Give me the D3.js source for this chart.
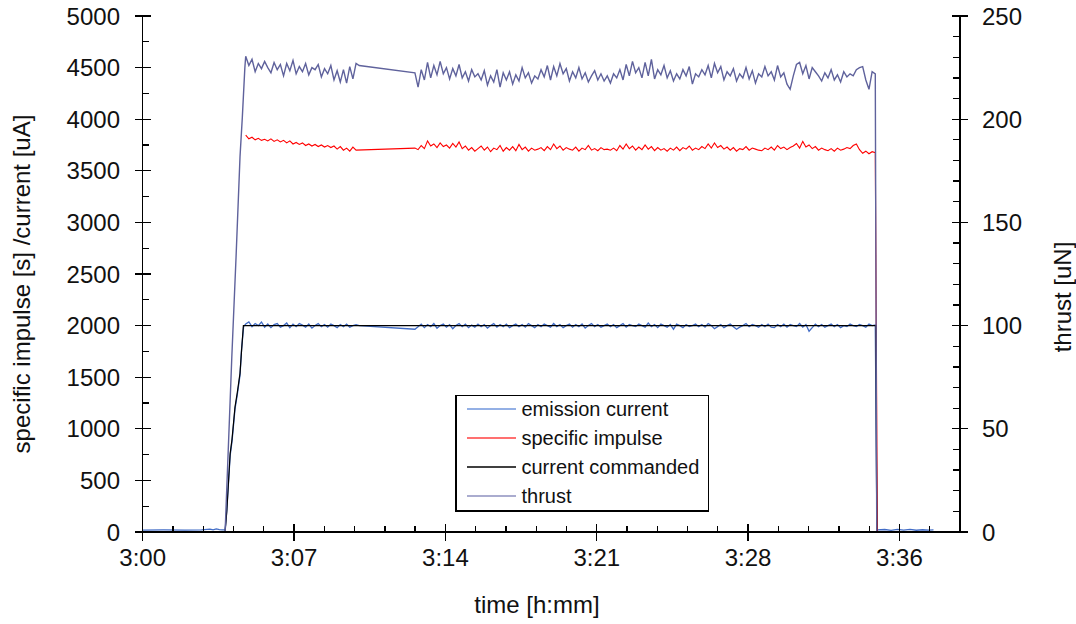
<!DOCTYPE html>
<html>
<head>
<meta charset="utf-8">
<script src="https://cdn.jsdelivr.net/npm/d3@7"></script>
<style>
  html, body { margin: 0; padding: 0; background: #fff; }
  svg { display: block; font-family: "Liberation Sans", Arial, sans-serif; }
</style>
</head>
<body>
<svg id="chart" width="1076" height="624"></svg>
<script>
// ---- DATA (time in minutes after 3:00) ----
const xTickMinutes = [0, 7.2, 14.4, 21.6, 28.8, 36];
const xTickLabels = ["3:00", "3:07", "3:14", "3:21", "3:28", "3:36"];
const xAxisMax = 38.88;
const leftTicks = [0, 500, 1000, 1500, 2000, 2500, 3000, 3500, 4000, 4500, 5000];
const rightTicks = [0, 50, 100, 150, 200, 250];
const seriesNames = ["emission current", "specific impulse", "current commanded", "thrust"];

// sampling schedule of the logged steady-state segments
const sampleStep = 0.15;
const segAStart = 4.9;
const segBStart = 12.95;

// emission current [uA]
const emissionPre = [[0, 18], [1, 20], [2, 18], [2.8, 20], [3.2, 27], [3.35, 21], [3.5, 30], [3.65, 23], [3.8, 20], [3.92, 20]];
const emissionRamp = [[4.0, 210], [4.16, 740], [4.25, 880], [4.39, 1190], [4.5, 1330], [4.63, 1520], [4.7, 1760], [4.8, 1990]];
const emissionA = [2015, 2035, 1990, 2020, 2000, 2035, 1985, 2015, 1980, 2010, 2020, 1985, 2000, 2025, 1980, 2015, 1990, 2020, 2005, 1985, 2015, 1975, 2000, 2020, 1990, 2010, 1985, 2015, 2000, 1980, 2010, 1990, 2015, 1985, 2000, 2010, 2000];
const emissionB = [1965, 1990, 2015, 1980, 2010, 1990, 2020, 1975, 2000, 2015,
  1985, 2010, 1970, 2000, 2020, 1990, 2015, 1980, 2005, 1985,
  2015, 1990, 2010, 1975, 2000, 2020, 1985, 2010, 1990, 2015,
  1980, 2000, 2015, 1990, 2010, 1985, 2020, 2000, 1980, 2010,
  1990, 2015, 2000, 1985, 2020, 1990, 2010, 1980, 2000, 2015,
  1985, 2010, 1990, 2015, 1975, 2000, 2020, 1990, 2010, 1985,
  2000, 2015, 1990, 2010, 1980, 2000, 2020, 1985, 2010, 2000,
  1990, 2015, 2000, 1985, 2025, 1990, 2010, 1980, 2015, 2000,
  1985, 2010, 1965, 2015, 2000, 1980, 2010, 1990, 2000, 2015,
  1990, 2010, 1985, 2020, 2000, 1970, 1990, 2010, 1980, 2000,
  2015, 1990, 1965, 1985, 2000, 2020, 1990, 2010, 2000, 1985,
  2010, 1990, 2015, 1985, 1980, 2010, 1990, 2015, 1985, 2010,
  2000, 1990, 2020, 1985, 2010, 1945, 1980, 2015, 1990, 2010,
  1985, 2000, 2015, 1990, 2010, 1980, 2000, 1990, 2015, 2000,
  1990, 2010, 2000, 1985, 2015, 2000, 2005];
const emissionPost = [[34.93, 0], [34.96, 20], [35.3, 24], [35.6, 16], [35.9, 25], [36.2, 18], [36.5, 26], [36.8, 17], [37.1, 22], [37.4, 18], [37.62, 20]];

// specific impulse [s]
const impulseA = [3845, 3810, 3825, 3800, 3815, 3795, 3805, 3790, 3810, 3785, 3800, 3780, 3795, 3770, 3790, 3760, 3775, 3755, 3770, 3745, 3760, 3740, 3755, 3735, 3750, 3730, 3745, 3725, 3740, 3710, 3735, 3700, 3720, 3690, 3730, 3700];
const impulseB = [3720, 3705, 3745, 3715, 3790, 3740, 3760, 3725, 3770, 3735,
  3750, 3720, 3765, 3730, 3780, 3715, 3740, 3700, 3725, 3690,
  3715, 3740, 3700, 3730, 3685, 3720, 3705, 3745, 3690, 3725,
  3700, 3735, 3695, 3755, 3705, 3730, 3690, 3720, 3700, 3710,
  3725, 3695, 3735, 3705, 3760, 3715, 3740, 3700, 3725, 3710,
  3700, 3730, 3690, 3720, 3705, 3745, 3700, 3715, 3695, 3725,
  3705, 3710, 3700, 3720, 3695, 3745, 3710, 3760, 3715, 3740,
  3700, 3730, 3705, 3750, 3710, 3735, 3695, 3725, 3700, 3715,
  3690, 3720, 3700, 3730, 3695, 3725, 3710, 3740, 3700, 3720,
  3705, 3735, 3715, 3760, 3720, 3770, 3725, 3745, 3710, 3730,
  3700, 3725, 3690, 3715, 3705, 3735, 3700, 3720, 3710, 3700,
  3695, 3720, 3705, 3730, 3700, 3745, 3715, 3730, 3705, 3725,
  3740, 3765, 3720, 3785, 3730, 3750, 3715, 3735, 3700, 3720,
  3705, 3695, 3715, 3690, 3720, 3700, 3710, 3725, 3715, 3745,
  3760, 3705, 3670, 3690, 3665, 3685, 3675];
const impulseEnd = [[34.95, 0]];

// current commanded [uA]
const commanded = [[0, 0], [3.92, 0], [4.0, 200], [4.16, 760], [4.25, 900], [4.39, 1210], [4.5, 1350], [4.63, 1540], [4.7, 1750], [4.79, 2000], [34.88, 2000], [34.92, 0], [37.62, 0]];

// thrust [uN]
const thrustRamp = [[0, 0], [3.92, 0], [4.24, 85], [4.44, 133], [4.63, 182], [4.74, 201], [4.86, 225]];
const thrustA = [230.5, 226, 229, 223, 227, 224.5, 228, 225, 222.5, 227.5, 224, 226.5, 221, 227, 223.5, 228.5, 222, 225.5, 223, 227, 221.5, 225, 224, 226.5, 220.5, 224.5, 222, 226, 219, 223.5, 218, 224, 217.5, 225.5, 219.5, 227, 226];
const thrustB = [222.5, 215.5, 224, 219, 227.5, 220, 226, 221.5, 228, 222,
  225, 219.5, 224.5, 221, 226.5, 220, 223, 218.5, 224, 220.5,
  222, 219, 223.5, 216.5, 221, 218, 224, 215.5, 222.5, 219,
  223, 217, 221.5, 218.5, 225, 220, 222.5, 217.5, 221, 219.5,
  224, 220.5, 226, 219, 225.5, 221, 227, 222, 224.5, 218.5,
  223, 220, 225, 219.5, 222.5, 218, 221, 223.5, 219, 222,
  218.5, 221, 217.5, 222, 220, 224, 219, 226.5, 221, 228,
  222.5, 225, 220, 227.5, 221, 229, 219.5, 224, 221.5, 226,
  220, 223.5, 218.5, 222, 219.5, 224, 221, 225.5, 217, 222,
  220.5, 224, 221.5, 226, 220, 227, 222.5, 225.5, 219, 223,
  221, 224.5, 218.5, 222, 220, 225, 219.5, 223.5, 217.5, 222,
  220.5, 225.5, 221, 223, 219, 226, 220.5, 222.5, 217, 214.5,
  221, 226.5, 227.5, 222, 226, 219.5, 225, 223, 221, 218.5,
  222.5, 220, 224, 219, 221.5, 218, 223, 220.5, 222, 221,
  224, 225, 225.5, 219, 214.5, 223, 222];
const thrustEnd = [[34.92, 0], [37.62, 0]];

// ---- helpers ----
function sampled(values, start) { return values.map((v, i) => [start + i * sampleStep, v]); }

const emissionData = [].concat(emissionPre, emissionRamp, sampled(emissionA, segAStart), sampled(emissionB, segBStart), emissionPost);
const impulseData = [].concat(sampled(impulseA, segAStart), sampled(impulseB, segBStart), impulseEnd);
const thrustData = [].concat(thrustRamp, sampled(thrustA, segAStart), sampled(thrustB, segBStart), thrustEnd);

// ---- layout ----
const svg = d3.select("#chart");
const L = 142.7, R = 960, T = 16, B = 532;
const x = d3.scaleLinear().domain([0, xAxisMax]).range([L, R]);
const yL = d3.scaleLinear().domain([0, 5000]).range([B, T]);
const yR = d3.scaleLinear().domain([0, 250]).range([B, T]);

const colors = { emission: "#416cc6", impulse: "#ff0000", commanded: "#000000", thrust: "#5f629c" };

const lineL = d3.line().x(d => x(d[0])).y(d => yL(d[1]));
const lineR = d3.line().x(d => x(d[0])).y(d => yR(d[1]));

const plot = svg.append("g");
plot.append("path").datum(emissionData).attr("d", lineL).attr("fill", "none").attr("stroke", colors.emission).attr("stroke-width", 1.3);
plot.append("path").datum(impulseData).attr("d", lineL).attr("fill", "none").attr("stroke", colors.impulse).attr("stroke-width", 1.1);
plot.append("path").datum(commanded).attr("d", lineL).attr("fill", "none").attr("stroke", colors.commanded).attr("stroke-width", 1.2);
plot.append("path").datum(thrustData).attr("d", lineR).attr("fill", "none").attr("stroke", colors.thrust).attr("stroke-width", 1.4);

// ---- axes ----
const axisColor = "#000";
const ax = svg.append("g").attr("stroke", axisColor).attr("stroke-width", 1.3).attr("shape-rendering", "crispEdges");
ax.append("line").attr("x1", L).attr("x2", L).attr("y1", T).attr("y2", B);
ax.append("line").attr("x1", R).attr("x2", R).attr("y1", T).attr("y2", B);
ax.append("line").attr("x1", L).attr("x2", R).attr("y1", B).attr("y2", B);

// left ticks
leftTicks.forEach(v => ax.append("line").attr("x1", L - 8).attr("x2", L + 8).attr("y1", yL(v)).attr("y2", yL(v)));
d3.range(250, 5000, 500).forEach(v => ax.append("line").attr("x1", L).attr("x2", L + 6).attr("y1", yL(v)).attr("y2", yL(v)));
// right ticks
rightTicks.forEach(v => ax.append("line").attr("x1", R - 8).attr("x2", R + 8).attr("y1", yR(v)).attr("y2", yR(v)));
d3.range(10, 250, 10).filter(v => v % 50 !== 0).forEach(v => ax.append("line").attr("x1", R - 7).attr("x2", R).attr("y1", yR(v)).attr("y2", yR(v)));
// x ticks
xTickMinutes.forEach(v => ax.append("line").attr("x1", x(v)).attr("x2", x(v)).attr("y1", B - 8).attr("y2", B + 9));
d3.range(0, 28).map(i => i * 1.44).filter((v, i) => i % 5 !== 0 && v <= xAxisMax + 0.01).forEach(v =>
  ax.append("line").attr("x1", x(v)).attr("x2", x(v)).attr("y1", B - 6).attr("y2", B));

// tick labels
const fs = 24;
const tl = svg.append("g").attr("fill", "#111").attr("font-size", fs);
leftTicks.forEach(v => tl.append("text").attr("x", 120).attr("y", yL(v)).attr("dy", "0.36em").attr("text-anchor", "end").text(v));
rightTicks.forEach(v => tl.append("text").attr("x", 982).attr("y", yR(v)).attr("dy", "0.36em").attr("text-anchor", "start").text(v));
xTickMinutes.forEach((v, i) => tl.append("text").attr("x", x(v)).attr("y", 566).attr("text-anchor", "middle").text(xTickLabels[i]));

// axis titles
tl.append("text").attr("x", 537).attr("y", 613).attr("text-anchor", "middle").text("time [h:mm]");
tl.append("text").attr("transform", "translate(30,284) rotate(-90)").attr("text-anchor", "middle").text("specific impulse [s] /current [uA]");
tl.append("text").attr("transform", "translate(1071,297) rotate(-90)").attr("text-anchor", "middle").text("thrust [uN]");

// ---- legend ----
const lg = svg.append("g");
lg.append("rect").attr("x", 456).attr("y", 395.5).attr("width", 252.5).attr("height", 115.5)
  .attr("fill", "#fff").attr("stroke", "#000").attr("stroke-width", 1.2).attr("shape-rendering", "crispEdges");
const legendColorsLine = ["#7196dc", "#ff4040", "#000", "#8e90bf"];
seriesNames.forEach((name, i) => {
  const yy = 409 + i * 29;
  lg.append("line").attr("x1", 467).attr("x2", 516).attr("y1", yy).attr("y2", yy).attr("stroke", legendColorsLine[i]).attr("stroke-width", 1.3);
  lg.append("text").attr("x", 521.5).attr("y", yy).attr("dy", "0.35em").attr("font-size", 20).attr("fill", "#111").text(name);
});
</script>
</body>
</html>
